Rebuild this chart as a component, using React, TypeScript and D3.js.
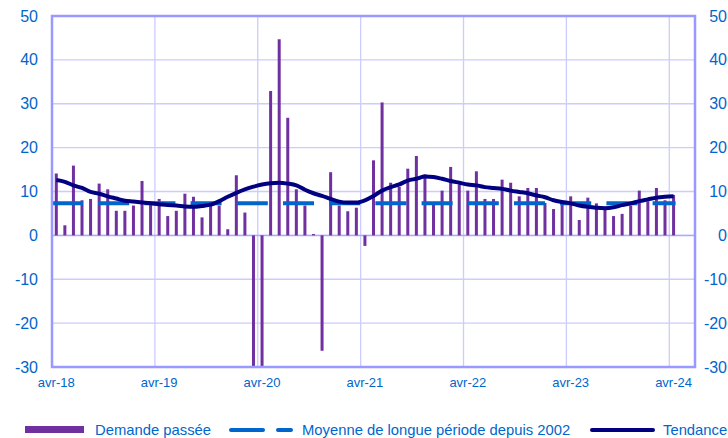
import React from "react";
import * as d3 from "d3";

const demandePassee: number[] = [
  14.1, 2.3, 15.9, 8.0, 8.3, 11.8, 10.5, 5.6, 5.6, 6.8, 12.4, 7.2,
  8.3, 4.4, 5.6, 9.5, 8.8, 4.1, 6.7, 6.8, 1.4, 13.7, 5.2, -33,
  -33, 32.9, 44.7, 26.8, 10.5, 6.8, 0.3, -26.3, 14.4, 6.8, 5.5, 6.3,
  -2.4, 17.1, 30.3, 12.0, 11.1, 15.2, 18.1, 13.9, 7.4, 10.2, 15.6, 11.6,
  10.2, 14.6, 8.3, 8.3, 12.7, 12.0, 8.9, 10.8, 10.8, 7.4, 6.0, 7.3,
  8.9, 3.5, 8.6, 7.3, 6.5, 4.4, 4.9, 6.8, 10.2, 7.8, 10.8, 8.0,
  9.2,
];
const tendance: number[] = [
  12.6, 12.2, 11.4, 10.8, 9.9, 9.5, 8.9, 8.4, 7.9, 7.7, 7.5, 7.3,
  7.1, 6.9, 6.8, 6.6, 6.5, 6.7, 7.0, 7.8, 8.8, 9.7, 10.5, 11.1,
  11.6, 11.9, 12.0, 11.8, 11.4, 10.4, 9.6, 9.0, 8.3, 7.7, 7.5, 7.5,
  8.0, 9.0, 10.2, 11.0, 11.6, 12.5, 12.9, 13.4, 13.3, 12.9, 12.4, 12.0,
  11.6, 11.4, 11.0, 10.8, 10.6, 10.2, 9.9, 9.6, 9.1, 8.7, 8.0, 7.6,
  7.3, 6.8, 6.5, 6.3, 6.2, 6.4, 6.9, 7.3, 7.8, 8.2, 8.6, 8.8,
  8.9,
];
const moyenneLongue = 7.3;
const yTicks: number[] = [-30, -20, -10, 0, 10, 20, 30, 40, 50];
const xTickLabels: string[] = ["avr-18", "avr-19", "avr-20", "avr-21", "avr-22", "avr-23", "avr-24"];
const legendLabels: string[] = ["Demande passée", "Moyenne de longue période depuis 2002", "Tendance"];

const W = 728;
const H = 438;
const M = { left: 52, right: 695, top: 16, bottom: 367 };
const TOTAL_MONTHS = 75;

const PURPLE = "#7030A0";
const BLUE = "#0066CC";
const NAVY = "#000080";
const GRID = "#CCCCFF";
const AXIS = "#9999FF";
const FONT = "'Liberation Sans', Arial, sans-serif";

export default function App() {
  const x = d3.scaleLinear().domain([0, TOTAL_MONTHS]).range([M.left, M.right]);
  const y = d3.scaleLinear().domain([-30, 50]).range([M.bottom, M.top]);

  const trendLine = d3
    .line<number>()
    .x((_, i) => x(i + 0.5))
    .y((d) => y(d))
    .curve(d3.curveMonotoneX)(tendance) as string;

  const nMonths = demandePassee.length;
  const barW = 3;
  const yearTicks = xTickLabels.map((_, k) => k * 12);

  return (
    <svg
      width={W}
      height={H}
      style={{ position: "absolute", left: 0, top: 0, background: "#fff" }}
      fontFamily={FONT}
    >
      <defs>
        <clipPath id="plot">
          <rect x={M.left} y={M.top} width={M.right - M.left} height={M.bottom - M.top} />
        </clipPath>
      </defs>
      {yTicks.map((t) => (
        <line key={"h" + t} x1={M.left} x2={M.right} y1={y(t)} y2={y(t)} stroke={GRID} strokeWidth={1.3} />
      ))}
      {yearTicks.slice(1).map((m) => (
        <line key={"v" + m} x1={x(m)} x2={x(m)} y1={M.top} y2={M.bottom} stroke={GRID} strokeWidth={1.3} />
      ))}
      <line x1={M.left} x2={M.right} y1={y(0)} y2={y(0)} stroke="#AAAAFF" strokeWidth={1.5} />
      <g clipPath="url(#plot)">
        {demandePassee.map((v, i) => (
          <rect
            key={"b" + i}
            x={x(i + 0.5) - barW / 2}
            width={barW}
            y={Math.min(y(v), y(0))}
            height={Math.abs(y(v) - y(0))}
            fill={PURPLE}
          />
        ))}
      </g>
      <line
        x1={x(0)}
        x2={x(nMonths - 0.5) + 2}
        y1={y(moyenneLongue)}
        y2={y(moyenneLongue)}
        stroke={BLUE}
        strokeWidth={4}
        strokeDasharray="31,15.2"
      />
      <path d={trendLine} fill="none" stroke={NAVY} strokeWidth={4} strokeLinejoin="round" />
      <rect
        x={M.left}
        y={M.top}
        width={M.right - M.left}
        height={M.bottom - M.top}
        fill="none"
        stroke={AXIS}
        strokeWidth={2.5}
      />
      {yTicks.map((t) => (
        <g key={"yl" + t}>
          <text x={38} y={y(t)} dy="0.35em" textAnchor="end" fontSize={16} fill={BLUE}>
            {t}
          </text>
          <text x={727} y={y(t)} dy="0.35em" textAnchor="end" fontSize={16} fill={BLUE}>
            {t}
          </text>
        </g>
      ))}
      {xTickLabels.map((l, k) => (
        <text key={l} x={x(k * 12 + 0.5)} y={382} dy="0.35em" textAnchor="middle" fontSize={13} fill={BLUE}>
          {l}
        </text>
      ))}
      <g>
        <rect x={25} y={426} width={59} height={7} fill={PURPLE} />
        <text x={95} y={430} dy="0.35em" fontSize={14.8} fill={BLUE}>
          {legendLabels[0]}
        </text>
        <line x1={231} x2={263} y1={430} y2={430} stroke={BLUE} strokeWidth={4} strokeLinecap="round" />
        <line x1={278} x2={291} y1={430} y2={430} stroke={BLUE} strokeWidth={4} strokeLinecap="round" />
        <text x={302} y={430} dy="0.35em" fontSize={14.8} fill={BLUE}>
          {legendLabels[1]}
        </text>
        <line x1={592} x2={653} y1={430} y2={430} stroke={NAVY} strokeWidth={4} strokeLinecap="round" />
        <text x={663} y={430} dy="0.35em" fontSize={14.8} fill={BLUE}>
          {legendLabels[2]}
        </text>
      </g>
    </svg>
  );
}
